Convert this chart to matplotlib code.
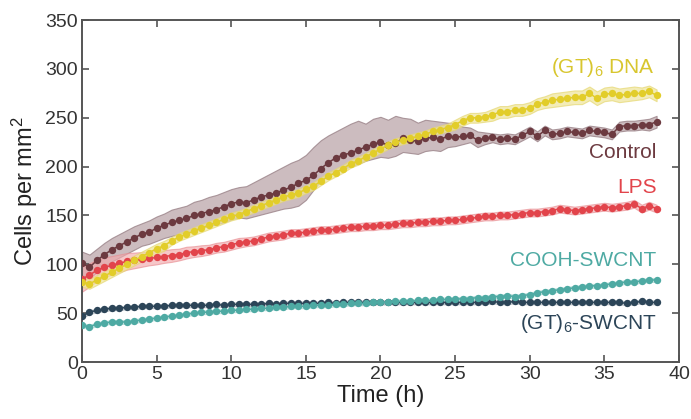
import numpy as np
import matplotlib
matplotlib.use("Agg")
import matplotlib.pyplot as plt

plt.rcParams['font.family'] = ['Liberation Sans', 'DejaVu Sans']
plt.rcParams['mathtext.fontset'] = 'custom'
plt.rcParams['mathtext.rm'] = 'Liberation Sans'
plt.rcParams['mathtext.it'] = 'Liberation Sans:italic'

# time points (h), imaged every 30 min
time_h = np.arange(0, 39.0, 0.5)

control = [101, 97, 104, 110, 115, 119, 123, 127, 131, 133, 137, 140, 143, 145, 147, 150,
           152, 154, 156, 159, 162, 164, 163, 166, 169, 171, 173, 176, 179, 183, 186, 191,
           198, 204, 209, 212, 214, 217, 220, 223, 225, 222, 224, 229, 227, 226, 229, 230,
           228, 231, 230, 231, 232, 227, 229, 230, 228, 229, 228, 232, 236, 231, 237, 233,
           234, 236, 235, 234, 237, 236, 235, 233, 241, 242, 242, 243, 243, 246]
control_hi = [113, 110, 116, 122, 127, 131, 135, 139, 142, 145, 149, 152, 156, 158, 160, 164,
              166, 169, 171, 174, 177, 179, 180, 184, 188, 192, 196, 200, 204, 207, 212, 220,
              227, 232, 236, 240, 244, 247, 244, 249, 251, 248, 252, 250, 249, 245, 248, 247,
              246, 245, 244, 241, 240, 236, 235, 234, 233, 234, 233, 237, 241, 236, 242, 238,
              239, 241, 240, 239, 242, 241, 240, 238, 246, 247, 247, 248, 249, 252]
control_lo = [89, 86, 92, 98, 103, 107, 111, 115, 119, 121, 124, 127, 129, 131, 133, 136,
              138, 139, 141, 143, 146, 148, 147, 149, 151, 153, 155, 157, 158, 160, 166, 176,
              186, 192, 195, 198, 200, 203, 206, 208, 210, 209, 211, 215, 214, 213, 216, 217,
              216, 220, 221, 223, 225, 220, 223, 225, 223, 224, 223, 227, 231, 226, 232, 228,
              229, 231, 230, 229, 232, 231, 230, 228, 236, 237, 237, 238, 237, 240]

gt6_dna = [82, 80, 84, 88, 92, 96, 100, 104, 108, 112, 116, 119, 124, 128, 131, 134,
           137, 140, 143, 146, 149, 151, 154, 157, 160, 163, 166, 169, 171, 173, 177, 180,
           185, 190, 194, 198, 203, 206, 210, 214, 218, 222, 225, 227, 229, 231, 233, 236,
           238, 240, 243, 247, 250, 250, 251, 253, 256, 256, 258, 258, 260, 264, 266, 268,
           269, 270, 271, 271, 275, 270, 274, 275, 273, 274, 275, 275, 277, 273]
gt6_dna_err = [5, 5, 5, 5, 5, 5, 5, 5, 5, 5, 5, 5, 4, 4, 4, 4,
               4, 4, 4, 4, 4, 4, 4, 4, 4, 4, 4, 4, 4, 4, 4, 4,
               4, 4, 4, 4, 4, 4, 4, 4, 4, 4, 4, 4, 4, 4, 4, 4,
               4, 4, 5, 5, 5, 5, 5, 6, 6, 6, 6, 6, 6, 6, 6, 7,
               7, 7, 7, 7, 7, 7, 7, 7, 7, 7, 7, 6, 6, 6]

lps = [85, 89, 94, 97, 99, 101, 103, 104, 105, 106, 107, 108, 109, 110, 112, 113,
       114, 115, 117, 118, 120, 122, 123, 124, 126, 128, 129, 130, 132, 132, 133, 134,
       135, 135, 136, 137, 138, 138, 139, 139, 140, 140, 141, 142, 142, 143, 143, 144,
       144, 145, 145, 146, 147, 148, 149, 149, 150, 150, 151, 152, 153, 153, 154, 155,
       157, 156, 155, 156, 157, 158, 159, 158, 159, 160, 162, 157, 160, 157]
lps_err = [13, 12, 11, 10, 9.5, 9, 8.5, 8, 7.5, 7, 7, 6.5, 6.5, 6, 6, 5.5,
           5.5, 5, 5, 5, 5, 5, 4.5, 4.5, 4.5, 4.5, 4.5, 4.5, 4, 4, 4, 4,
           4, 4, 4, 4, 4, 4, 4, 4, 4, 4, 4, 4, 4, 4, 4, 4,
           4, 4, 4, 4, 4, 4, 4, 4, 4, 4, 4, 4, 4, 4, 4, 4,
           4, 4, 4, 4, 4, 4, 4, 4, 4, 4, 4, 4, 4, 4]

cooh_swcnt = [38, 36, 39, 40, 41, 41, 41, 42, 43, 44, 45, 46, 47, 48, 49, 50,
              51, 51, 52, 52, 53, 53, 54, 54, 55, 55, 56, 56, 57, 57, 57, 58,
              58, 58, 59, 59, 60, 60, 60, 61, 61, 61, 62, 62, 62, 63, 63, 63,
              64, 64, 64, 65, 65, 66, 66, 67, 67, 68, 67, 68, 69, 71, 72, 73,
              74, 75, 76, 77, 78, 78, 79, 80, 81, 82, 82, 83, 84, 84]
cooh_swcnt_err = [2] * 78

gt6_swcnt = [47, 51, 53, 54, 55, 55, 56, 56, 57, 57, 57, 57, 58, 58, 58, 58,
             58, 58, 59, 58, 59, 59, 59, 59, 59, 60, 59, 60, 60, 60, 60, 60,
             60, 61, 60, 61, 61, 61, 61, 61, 61, 61, 61, 61, 61, 61, 61, 61,
             61, 61, 61, 61, 61, 61, 61, 62, 61, 61, 62, 61, 61, 61, 61, 61,
             61, 61, 61, 61, 61, 61, 61, 61, 61, 60, 61, 62, 61, 61]
gt6_swcnt_err = [2] * 78

c_control = '#6c3a40'
c_dna = '#e2cd2a'
c_lps = '#e2444b'
c_cooh = '#4eaaa3'
c_gtsw = '#2c4558'

fig = plt.figure(figsize=(6.91, 4.19), dpi=100)
ax = fig.add_axes([0.1187, 0.136, 0.8639, 0.816])


def band(lo, hi, face, edge, alpha):
    ax.fill_between(time_h, lo, hi, facecolor=face, edgecolor=edge,
                    linewidth=0.8, alpha=alpha, zorder=1)


def series(y, color, z):
    ax.plot(time_h, y, '-', color=color, lw=1.1, zorder=z)
    ax.plot(time_h, y, 'o', color=color, ms=5.3, mec='none', zorder=z)


def sym(y, e):
    y = np.asarray(y, float)
    e = np.asarray(e, float)
    return y - e, y + e


band(control_lo, control_hi, '#bba6aa', '#957c82', 0.75)
band(*sym(lps, lps_err), '#f2a9ac', '#e88d92', 0.65)
band(*sym(gt6_dna, gt6_dna_err), '#efe49a', '#e6d872', 0.7)
band(*sym(cooh_swcnt, cooh_swcnt_err), '#a9d6d2', '#a9d6d2', 0.6)
band(*sym(gt6_swcnt, gt6_swcnt_err), '#a9b2ba', '#a9b2ba', 0.6)

series(gt6_swcnt, c_gtsw, 3)
series(cooh_swcnt, c_cooh, 3)
series(lps, c_lps, 4)
series(control, c_control, 5)
series(gt6_dna, c_dna, 6)

lab_kw = dict(ha='right', va='center', fontsize=15)
ax.text(38.4, 301, r'(GT)$_\mathregular{6}$ DNA', color='#d8c62e', **lab_kw)
ax.text(38.5, 214, 'Control', color=c_control, **lab_kw)
ax.text(38.5, 179, 'LPS', color=c_lps, **lab_kw)
ax.text(38.5, 104, 'COOH-SWCNT', color=c_cooh, **lab_kw)
ax.text(38.5, 39, r'(GT)$_\mathregular{6}$-SWCNT', color=c_gtsw, **lab_kw)

ax.set_xlim(0, 40)
ax.set_ylim(0, 350)
ax.set_xticks(np.arange(0, 41, 5))
ax.set_yticks(np.arange(0, 351, 50))
ax.set_xlabel('Time (h)', fontsize=17, color='#222222', labelpad=1)
ax.set_ylabel(r'Cells per mm$^\mathregular{2}$', fontsize=17, color='#222222', labelpad=4)

for s in ax.spines.values():
    s.set_color('#555555')
    s.set_linewidth(1.4)
ax.tick_params(direction='in', length=5, width=1.2, color='#555555',
               top=True, right=True, labelsize=14, labelcolor='#333333', pad=3)

fig.savefig('out.png', dpi=100)
